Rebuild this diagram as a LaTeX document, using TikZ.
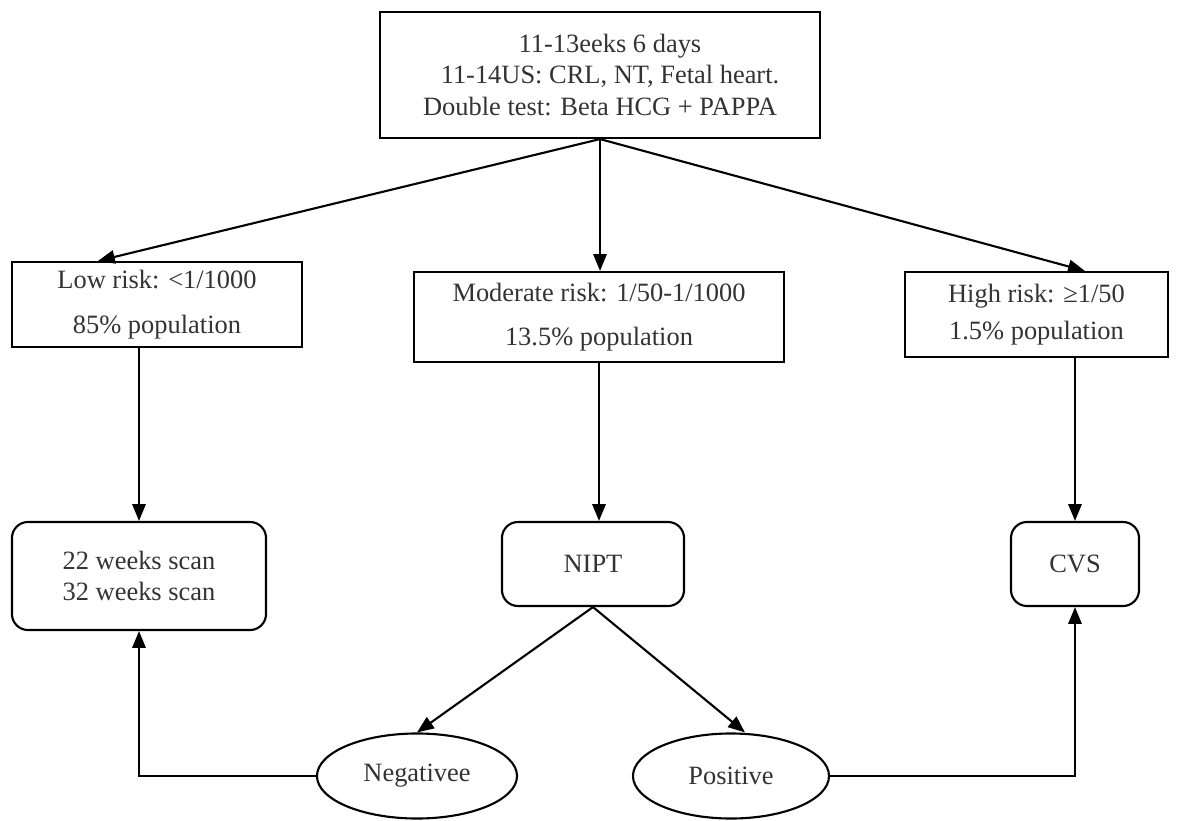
\documentclass[tikz,border=0pt]{standalone}
\usepackage{fontspec}
\setmainfont{Liberation Serif}
\usepackage{tikz}
\usetikzlibrary{positioning, arrows.meta, shapes.geometric, calc}

\begin{document}
\begin{tikzpicture}[x=0.025cm, y=-0.025cm,
    font=\fontsize{18.8}{22.5}\selectfont,
    every node/.style={text=black!80, inner sep=0pt, align=center},
    box/.style={draw=black, line width=1.5pt},
    roundbox/.style={box, rounded corners=0.4cm},
    oval/.style={box, ellipse, minimum width=5cm, minimum height=2.125cm},
    arr/.style={line width=1.5pt, -{Triangle[length=12pt, width=9.5pt]}}]
 			\useasboundingbox (0,0) rectangle (1184,821);
 			
 			% Screening
 			\node[box, minimum width=11cm, minimum height=3.15cm] (screen) at (600,75)
 			  {\hspace*{0.5cm}11-13eeks 6 days\\
 			   \hspace*{0.5cm}11-14US: CRL, NT, Fetal heart.\\
 			   Double test: Beta HCG + PAPPA};
 			
 			% Risk groups
 			\node[box, minimum width=7.25cm, minimum height=2.125cm] (low) at (157,304.5)
 			  {Low risk: <1/1000\\[0.35cm]85\% population};
 			\node[box, minimum width=9.25cm, minimum height=2.25cm] (moderate) at (599,317)
 			  {Moderate risk: 1/50-1/1000\\[0.3cm]13.5\% population};
 			\node[box, minimum width=6.575cm, minimum height=2.125cm] (high) at (1036.5,314.5)
 			  {High risk: ≥1/50\\[0.15cm]1.5\% population};
 			
 			% Follow-up
 			\node[roundbox, minimum width=6.35cm, minimum height=2.7cm] (scans) at (139,576)
 			  {22 weeks scan\\32 weeks scan};
 			\node[roundbox, minimum width=4.55cm, minimum height=2.1cm] (nipt) at (593,564) {NIPT};
 			\node[roundbox, minimum width=3.2cm, minimum height=2.1cm] (cvs) at (1075,564) {CVS};
 			
 			% NIPT results
 			\node[oval] (neg) at (417,776) {Negativee};
 			\node[oval, minimum width=4.9cm] (pos) at (731,776) {Positive};
 			
 			% Arrows
 			\draw[arr] (screen.south) -- ([xshift=-1.475cm]low.north);
 			\draw[arr] (screen.south) -- (screen.south |- moderate.north);
 			\draw[arr] (screen.south) -- ([xshift=1.21cm]high.north);
 			\draw[arr] (low.south -| scans.north) -- (scans.north);
 			\draw[arr] (moderate.south) -- (moderate.south |- nipt.north);
 			\draw[arr] (high.south -| cvs.north) -- (cvs.north);
 			\draw[arr] (nipt.south) -- (neg.north);
 			\draw[arr] (nipt.south) -- ([xshift=0.35cm]pos.north);
 			\draw[arr] (neg.west) -| (scans.south);
 			\draw[arr] (pos.east) -| (cvs.south);
 			
 		\end{tikzpicture}
\end{document}
